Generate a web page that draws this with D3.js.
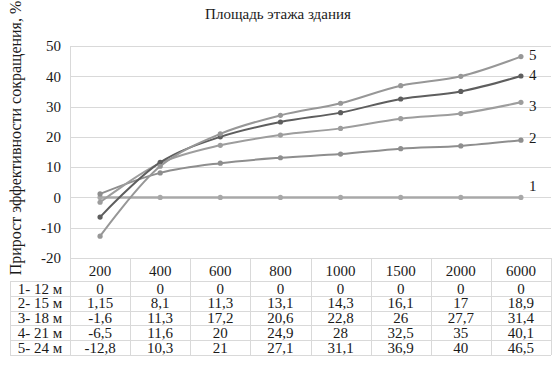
<!DOCTYPE html>
<html>
<head>
<meta charset="utf-8">
<script src="https://cdn.jsdelivr.net/npm/d3@7"></script>
<style>
  body { margin: 0; background: #fff; }
</style>
</head>
<body>
<div id="chart"></div>
<script>
// Categories (floor area) and series
const categories = ["200", "400", "600", "800", "1000", "1500", "2000", "6000"];
const seriesNames = ["1- 12 м", "2- 15 м", "3- 18 м", "4- 21 м", "5- 24 м"];
const seriesShort = ["1", "2", "3", "4", "5"];
const s1 = [0, 0, 0, 0, 0, 0, 0, 0];
const s2 = [1.15, 8.1, 11.3, 13.1, 14.3, 16.1, 17, 18.9];
const s3 = [-1.6, 11.3, 17.2, 20.6, 22.8, 26, 27.7, 31.4];
const s4 = [-6.5, 11.6, 20, 24.9, 28, 32.5, 35, 40.1];
const s5 = [-12.8, 10.3, 21, 27.1, 31.1, 36.9, 40, 46.5];
const yTicks = [-20, -10, 0, 10, 20, 30, 40, 50];

const seriesValues = [s1, s2, s3, s4, s5];
const colors = ["#a8a8a8", "#8e8e8e", "#9d9d9d", "#5e5e5e", "#979797"];
const labelDy = [-12, -2, 3, -1, -2];

const W = 552, H = 389;
const plot = { left: 70, right: 551, top: 46, bottom: 258 };
const rowH = 14.8, headerH = 23, labelLeft = 10;
const grid = "#d9d9d9";
const FONT = "Liberation Serif";
const ink = "#1a1a1a";

const svg = d3.select("#chart").append("svg")
    .attr("width", W)
    .attr("height", H);

const x = d3.scaleBand()
    .domain(categories)
    .range([plot.left, plot.right])
    .padding(0);

const y = d3.scaleLinear()
    .domain([-20, 50])
    .range([plot.bottom, plot.top]);

// title
svg.append("text")
    .attr("x", 278)
    .attr("y", 19)
    .attr("text-anchor", "middle")
    .attr("font-family", FONT)
    .attr("font-size", 15)
    .attr("fill", ink)
    .text("Площадь этажа здания");

// y axis title
svg.append("text")
    .attr("transform", "translate(21, 138) rotate(-90)")
    .attr("text-anchor", "middle")
    .attr("font-family", FONT)
    .attr("font-size", 16)
    .attr("fill", ink)
    .text("Прирост эффективности сокращения, %");

// gridlines
svg.append("g")
    .selectAll("line")
    .data(yTicks)
    .join("line")
    .attr("x1", plot.left)
    .attr("x2", plot.right)
    .attr("y1", d => Math.round(y(d)) + 0.5)
    .attr("y2", d => Math.round(y(d)) + 0.5)
    .attr("stroke", grid);

// y tick labels
svg.append("g")
    .selectAll("text")
    .data(yTicks)
    .join("text")
    .attr("x", 61)
    .attr("y", d => y(d))
    .attr("dy", "0.35em")
    .attr("text-anchor", "end")
    .attr("font-family", FONT)
    .attr("font-size", 15)
    .attr("fill", ink)
    .text(d => d);

// table
const tableTop = plot.bottom;
const rowsTop = tableTop + headerH;
const tableBottom = rowsTop + rowH * seriesNames.length;
const tbl = svg.append("g")
    .attr("font-family", FONT)
    .attr("font-size", 15)
    .attr("fill", ink);

// horizontal lines
d3.range(seriesNames.length + 1).forEach(i => {
    const yy = Math.round(rowsTop + i * rowH) + 0.5;
    tbl.append("line")
        .attr("x1", labelLeft).attr("x2", plot.right)
        .attr("y1", yy).attr("y2", yy)
        .attr("stroke", grid);
});
// vertical lines
const vx = categories.map(c => x(c)).concat([plot.right]);
vx.forEach((v, i) => {
    tbl.append("line")
        .attr("x1", Math.round(v) + 0.5).attr("x2", Math.round(v) + 0.5)
        .attr("y1", i === 0 ? plot.top : tableTop)
        .attr("y2", tableBottom)
        .attr("stroke", grid);
});
tbl.append("line")
    .attr("x1", labelLeft + 0.5).attr("x2", labelLeft + 0.5)
    .attr("y1", rowsTop).attr("y2", tableBottom)
    .attr("stroke", grid);

// header text
tbl.selectAll(".hdr")
    .data(categories)
    .join("text")
    .attr("class", "hdr")
    .attr("x", d => x(d) + x.bandwidth() / 2)
    .attr("y", tableTop + headerH / 2 + 1)
    .attr("dy", "0.35em")
    .attr("text-anchor", "middle")
    .text(d => d);

// row labels and cells
seriesNames.forEach((name, i) => {
    const cy = rowsTop + i * rowH + rowH / 2;
    tbl.append("text")
        .attr("x", (labelLeft + plot.left) / 2)
        .attr("y", cy)
        .attr("dy", "0.35em")
        .attr("text-anchor", "middle")
        .text(name);
    tbl.selectAll(".cell" + i)
        .data(seriesValues[i])
        .join("text")
        .attr("x", (d, j) => x(categories[j]) + x.bandwidth() / 2)
        .attr("y", cy)
        .attr("dy", "0.35em")
        .attr("text-anchor", "middle")
        .text(d => String(d).replace(".", ","));
});

// lines
const line = d3.line()
    .x((d, j) => x(categories[j]) + x.bandwidth() / 2)
    .y(d => y(d))
    .curve(d3.curveCatmullRom.alpha(0.5));

seriesValues.forEach((vals, i) => {
    const g = svg.append("g");
    g.append("path")
        .datum(vals)
        .attr("d", line)
        .attr("fill", "none")
        .attr("stroke", colors[i])
        .attr("stroke-width", i === 0 ? 2.5 : 2);
    g.selectAll("circle")
        .data(vals)
        .join("circle")
        .attr("cx", (d, j) => x(categories[j]) + x.bandwidth() / 2)
        .attr("cy", d => y(d))
        .attr("r", 2.6)
        .attr("fill", colors[i]);
    const last = vals[vals.length - 1];
    g.append("text")
        .attr("x", x(categories[categories.length - 1]) + x.bandwidth() / 2 + 8)
        .attr("y", y(last) + labelDy[i])
        .attr("dy", "0.35em")
        .attr("font-family", FONT)
        .attr("font-size", 15)
        .attr("fill", ink)
        .text(seriesShort[i]);
});
</script>
</body>
</html>
